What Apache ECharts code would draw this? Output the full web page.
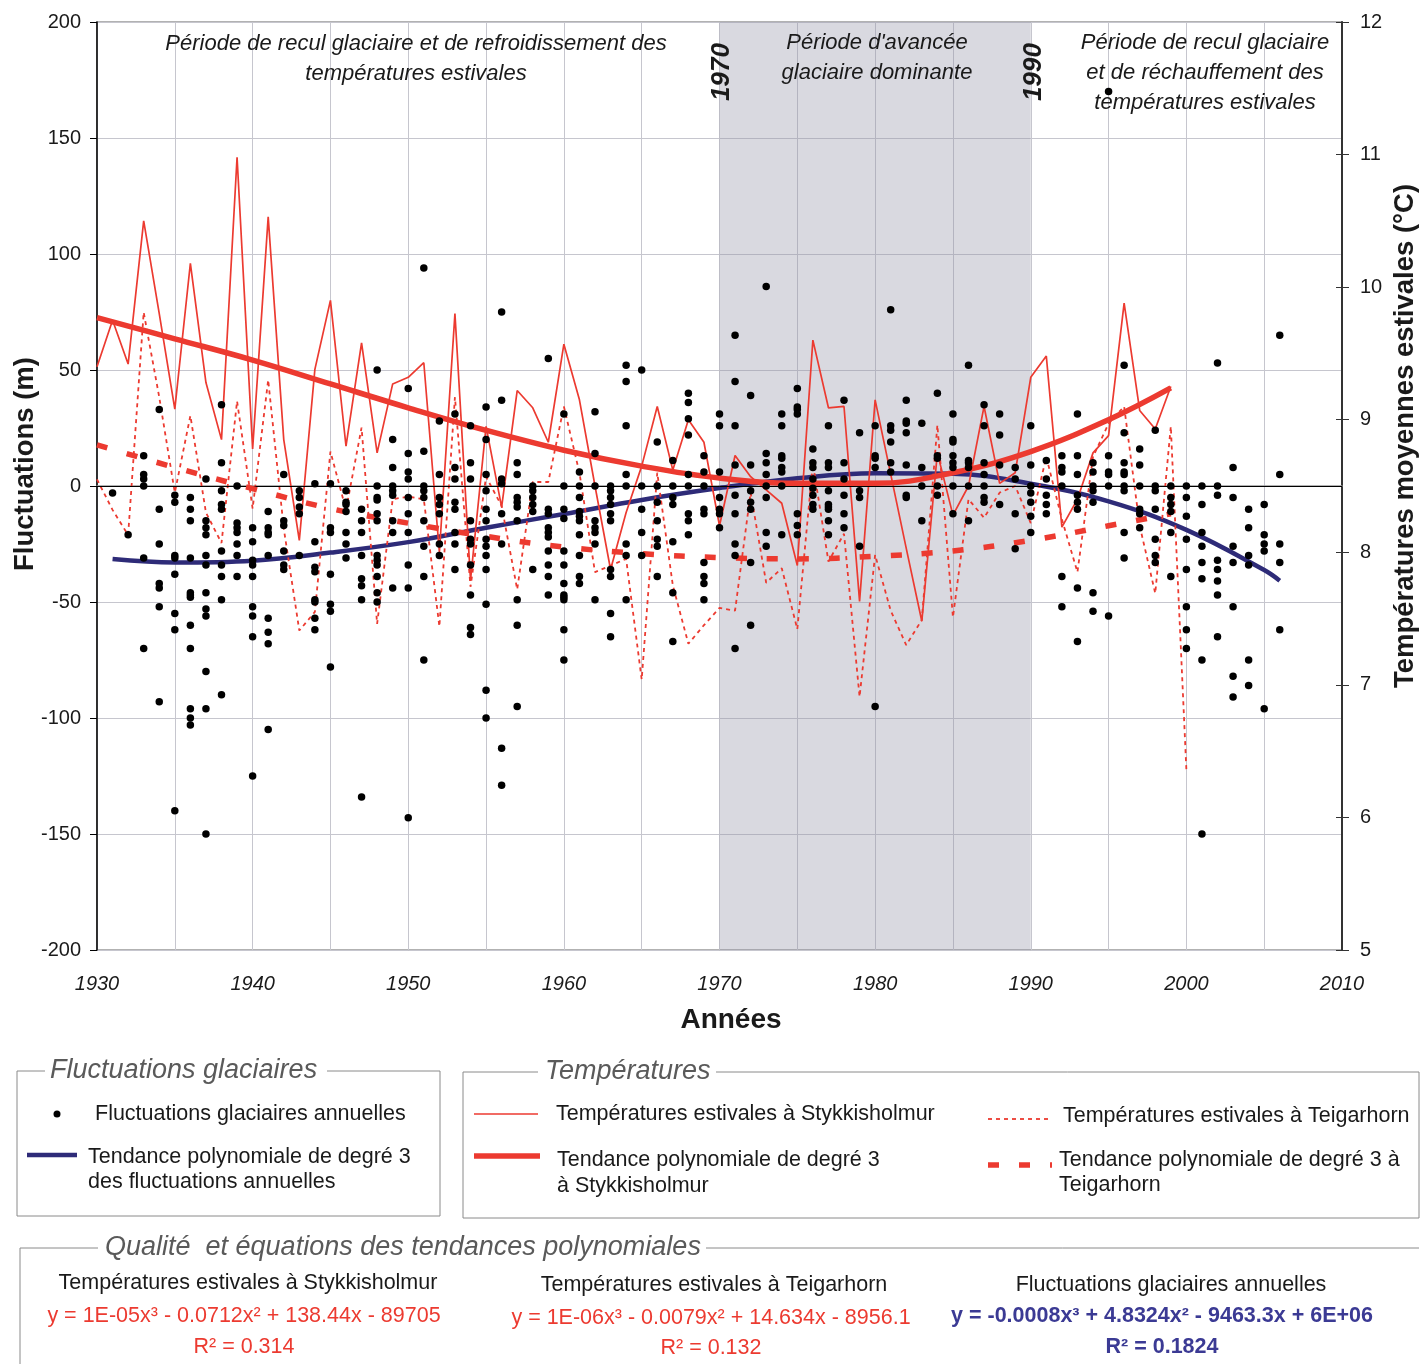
<!DOCTYPE html>
<html><head><meta charset="utf-8">
<script src="https://cdn.jsdelivr.net/npm/echarts@6/dist/echarts.min.js"></script>
<style>html,body{margin:0;padding:0;background:#fff}#c{width:1420px;height:1364px}</style>
</head><body><div id="c"></div>
<script>
// ---------- DATA ----------
const tempYears = [1930,1931,1932,1933,1934,1935,1936,1937,1938,1939,1940,1941,1942,1943,1944,1945,1946,1947,1948,1949,
  1950,1951,1952,1953,1954,1955,1956,1957,1958,1959,1960,1961,1962,1963,1964,1965,1966,1967,1968,1969,
  1970,1971,1972,1973,1974,1975,1976,1977,1978,1979,1980,1981,1982,1983,1984,1985,1986,1987,1988,1989,
  1990,1991,1992,1993,1994,1995,1996,1997,1998,1999,2000];
// Summer temperatures at Stykkisholmur (°C), 1930-1999
const stykkisholmur = [9.40,9.75,9.42,10.50,9.80,9.08,10.18,9.28,8.85,10.98,8.78,10.53,8.85,8.09,9.38,9.90,8.80,9.58,8.75,9.27,
  9.32,9.43,8.00,9.80,7.79,8.95,8.34,9.22,9.09,8.83,9.57,9.15,8.50,7.87,8.30,8.65,9.10,8.62,9.00,8.83,
  8.20,8.73,8.57,8.47,8.37,7.90,9.60,9.09,9.10,7.63,9.15,8.59,8.03,7.48,8.75,8.28,8.50,9.10,8.52,8.60,
  9.32,9.48,8.19,8.40,8.75,8.88,9.88,9.07,8.93,9.25];
// Summer temperatures at Teigarhorn (°C), 1930-2000
const teigarhorn = [8.55,8.32,8.13,9.81,9.17,8.45,9.03,8.30,8.07,9.14,8.33,9.30,8.18,7.41,7.55,8.76,8.32,8.94,7.46,8.40,
  8.42,8.40,7.44,9.17,7.74,8.57,8.35,7.72,8.53,8.53,9.10,8.60,7.85,7.90,7.95,7.04,8.60,7.75,7.31,7.45,
  7.58,7.56,8.45,7.77,7.88,7.42,8.67,7.93,8.14,6.91,7.98,7.56,7.30,7.49,8.96,7.51,8.40,8.26,8.45,8.50,
  8.22,8.72,8.25,7.85,8.72,8.97,9.10,8.20,7.69,8.95,6.36];
// Polynomial trends
const stykTrendYears  = [1930,1935,1940,1945,1950,1955,1960,1965,1970,1975,1980,1985,1990,1995,1999];
const stykTrendValues = [9.77,9.61,9.45,9.27,9.09,8.92,8.77,8.65,8.56,8.52,8.52,8.60,8.76,9.00,9.24];
const teigTrendYears  = [1930,1935,1940,1945,1950,1955,1960,1965,1970,1975,1980,1985,1990,1995,1999];
const teigTrendValues = [8.81,8.64,8.48,8.33,8.22,8.12,8.04,7.99,7.96,7.95,7.97,8.01,8.09,8.20,8.29];
const glacierTrendYears  = [1931,1935,1940,1945,1950,1955,1960,1965,1970,1975,1980,1985,1990,1995,2000,2005,2006];
const glacierTrendValues = [-31.5,-33,-32.2,-28.7,-24.2,-18,-12.1,-6,-0.9,3.3,5.5,5.3,1,-6.6,-18.9,-36.2,-40.8];
// Annual glacier fluctuations (m): [year, [values]]
const glacier1930s = [[1931,[-3]],[1932,[-21]],[1933,[13,5,3,0,-31,-70]],[1934,[33,-10,-25,-42,-44,-52,-93]],
  [1935,[-4,-7,-30,-31,-38,-55,-62,-140]],[1936,[-5,-10,-15,-31,-46,-47,-48,-60,-70,-96,-100,-103]],
  [1937,[3,-15,-18,-21,-30,-34,-46,-53,-56,-80,-96,-150]],[1938,[35,10,-2,-8,-10,-28,-34,-39,-49,-90]],
  [1939,[0,-16,-18,-20,-25,-30,-39]]];
const glacier1940s = [[1940,[-18,-24,-32,-34,-39,-52,-56,-65,-125]],[1941,[-11,-18,-20,-21,-30,-57,-63,-68,-105]],
  [1942,[5,-15,-17,-28,-34,-36]],[1943,[-2,-5,-9,-12,-30]],[1944,[1,-24,-35,-37,-49,-50,-57,-62]],
  [1945,[1,-18,-20,-38,-51,-54,-78]],[1946,[-2,-7,-8,-11,-20,-25,-31]],[1947,[-10,-15,-20,-30,-40,-43,-49,-134]],
  [1948,[50,0,-5,-6,-12,-15,-30,-32,-34,-39,-46,-50]],[1949,[20,8,0,-2,-4,-15,-20,-44]]];
const glacier1950s = [[1950,[42,14,6,3,-5,-12,-20,-34,-44,-143]],[1951,[94,15,0,-2,-5,-15,-26,-39,-75]],
  [1952,[28,5,-5,-8,-12,-25,-30]],[1953,[31,8,3,-7,-10,-20,-25,-36]],[1954,[26,10,3,-15,-23,-25,-34,-47,-61,-64]],
  [1955,[34,20,5,-2,-10,-15,-23,-26,-30,-36,-51,-88,-100]],[1956,[75,37,3,1,-12,-25,-113,-129]],
  [1957,[10,5,-5,-7,-9,-15,-49,-60,-95]],[1958,[0,-2,-5,-8,-11,-36]],[1959,[55,-10,-12,-18,-20,-22,-28,-34,-39,-47]]];
const glacier1960s = [[1960,[31,0,-10,-14,-28,-34,-42,-47,-48,-49,-62,-75]],[1961,[6,0,-5,-11,-13,-15,-21,-30,-39,-42]],
  [1962,[32,14,0,-15,-18,-20,-25,-49]],[1963,[0,-2,-5,-8,-12,-15,-36,-39,-55,-65]],[1964,[52,45,26,5,0,-25,-30,-49]],
  [1965,[50,0,-10,-20,-30]],[1966,[19,0,-7,-15,-23,-26,-39]],[1967,[11,0,-5,-8,-24,-46,-67]],
  [1968,[40,36,29,22,5,0,-12,-15,-21]],[1969,[13,6,0,-10,-12,-33,-39,-42,-49]]];
const glacier1970s = [[1970,[31,26,6,-5,-10,-12,-18]],[1971,[65,45,26,9,-4,-12,-25,-30,-70]],[1972,[39,9,-2,-7,-10,-33,-60]],
  [1973,[86,14,10,5,0,-5,-20,-26]],[1974,[31,26,13,12,8,6,0,-21]],[1975,[42,34,33,31,-12,-17,-21]],
  [1976,[16,10,8,3,-1,-4,-8,-10]],[1977,[26,10,8,-2,-8,-9,-10,-15,-21]],[1978,[37,10,3,-4,-12,-18]],[1979,[23,-2,-5,-26]]];
const glacier1980s = [[1980,[26,13,12,8,-95]],[1981,[76,26,24,19,10,6]],[1982,[37,28,27,23,9,-4,-5]],[1983,[27,8,0,-15]],
  [1984,[40,13,12,0,-4]],[1985,[31,20,19,13,10,8,0,-12]],[1986,[52,11,10,8,0,-15]],[1987,[35,26,10,5,0,-5,-7]],
  [1988,[31,22,9,-8]],[1989,[8,3,-12,-27]]];
const glacier1990s = [[1990,[26,9,0,-3,-7,-13,-20]],[1991,[11,3,-4,-8,-12]],[1992,[13,8,6,0,-39,-52]],
  [1993,[31,13,5,-4,-7,-10,-44,-67]],[1994,[10,6,0,-2,-7,-46,-54]],[1995,[170,13,6,5,0,-56]],
  [1996,[52,23,10,6,5,0,-2,-20,-31]],[1997,[16,9,0,-10,-12,-18]],[1998,[24,0,-2,-10,-23,-30,-33]],[1999,[0,-5,-8,-11,-20,-39]]];
const glacier2000s = [[2000,[0,-5,-13,-23,-36,-52,-62,-70]],[2001,[0,-8,-20,-26,-33,-40,-75,-150]],
  [2002,[53,0,-4,-32,-36,-41,-47,-65]],[2003,[8,-5,-26,-33,-52,-82,-91]],[2004,[-10,-18,-30,-34,-75,-86]],
  [2005,[-8,-21,-25,-28,-96]],[2006,[65,5,-25,-33,-62]]];
const shadedPeriod = [1970, 1990];

// ---------- BUILD ----------
const RED = '#ec3a30', NAVY = '#2e2b78';
const glacierPoints = [];
[glacier1930s,glacier1940s,glacier1950s,glacier1960s,glacier1970s,glacier1980s,glacier1990s,glacier2000s]
  .forEach(dec => dec.forEach(([yr, vals]) => vals.forEach(v => glacierPoints.push([yr, v]))));
const zip = (xs, ys) => ys.map((v, i) => [xs[i], v]);

const FONT = '"Liberation Sans", Arial, sans-serif';
function txt(x, y, text, o) {
  o = o || {};
  return { type: 'text', x: x, y: y, z: 100, rotation: o.rot || 0, style: {
    text: text, fill: o.fill || '#1a1a1a',
    font: (o.style || 'normal') + ' ' + (o.weight || 'normal') + ' ' + (o.size || 21.5) + 'px ' + FONT,
    textAlign: o.align || 'left', textVerticalAlign: 'middle', align: o.align || 'left', verticalAlign: 'middle' } };
}
function ln(x1, y1, x2, y2, o) {
  o = o || {};
  return { type: 'line', z: 100, shape: { x1, y1, x2, y2 }, style: { stroke: o.stroke || '#8a8a8a', lineWidth: o.w || 1, lineDash: o.dash || null } };
}
const GT = '#5a5a5a';
const graphics = [
  // annotations
  txt(416, 44, 'Période de recul glaciaire et de refroidissement des', {style:'italic', size:22, align:'center'}),
  txt(416, 74, 'températures estivales', {style:'italic', size:22, align:'center'}),
  txt(877, 43, "Période d'avancée", {style:'italic', size:22, align:'center'}),
  txt(877, 73, 'glaciaire dominante', {style:'italic', size:22, align:'center'}),
  txt(1205, 43, 'Période de recul glaciaire', {style:'italic', size:22, align:'center'}),
  txt(1205, 73, 'et de réchauffement des', {style:'italic', size:22, align:'center'}),
  txt(1205, 103, 'températures estivales', {style:'italic', size:22, align:'center'}),
  txt(722, 72, '1970', {style:'italic', weight:'bold', size:26, align:'center', rot: Math.PI/2}),
  txt(1034, 72, '1990', {style:'italic', weight:'bold', size:26, align:'center', rot: Math.PI/2}),
  // axis titles
  txt(25, 464, 'Fluctuations (m)', {weight:'bold', size:27.5, align:'center', rot: Math.PI/2}),
  txt(1405, 436, 'Températures moyennes estivales (°C)', {weight:'bold', size:27.5, align:'center', rot: Math.PI/2}),
  txt(731, 1020, 'Années', {weight:'bold', size:28, align:'center'}),
  // legend box 1
  ln(17, 1071, 45, 1071), ln(327, 1071, 440, 1071), ln(17, 1071, 17, 1216), ln(440, 1071, 440, 1216), ln(17, 1216, 440, 1216),
  txt(50, 1070, 'Fluctuations glaciaires', {style:'italic', size:27, fill:GT}),
  { type: 'circle', z: 100, shape: { cx: 57, cy: 1114, r: 3.5 }, style: { fill: '#000' } },
  txt(95, 1114, 'Fluctuations glaciaires annuelles'),
  ln(27, 1155, 77, 1155, {stroke: NAVY, w: 4.5}),
  txt(88, 1157, 'Tendance polynomiale de degré 3'),
  txt(88, 1182, 'des fluctuations annuelles'),
  // legend box 2
  ln(463, 1072, 538, 1072), ln(716, 1072, 1419, 1072), ln(463, 1072, 463, 1218), ln(1419, 1072, 1419, 1218), ln(463, 1218, 1419, 1218),
  txt(545, 1071, 'Températures', {style:'italic', size:27, fill:GT}),
  ln(474, 1114, 538, 1114, {stroke: RED, w: 1.6}),
  txt(556, 1114, 'Températures estivales à Stykkisholmur'),
  ln(474, 1156, 540, 1156, {stroke: RED, w: 5.5}),
  txt(557, 1160, 'Tendance polynomiale de degré 3'),
  txt(557, 1186, 'à Stykkisholmur'),
  ln(988, 1119, 1052, 1119, {stroke: RED, w: 1.8, dash: [4, 4]}),
  txt(1063, 1116, 'Températures estivales à Teigarhorn'),
  ln(988, 1165, 1052, 1165, {stroke: RED, w: 5.5, dash: [11, 20]}),
  txt(1059, 1160, 'Tendance polynomiale de degré 3 à'),
  txt(1059, 1185, 'Teigarhorn'),
  // equations box
  ln(20, 1248, 98, 1248), ln(706, 1248, 1419, 1248), ln(20, 1248, 20, 1364),
  txt(105, 1247, 'Qualité  et équations des tendances polynomiales', {style:'italic', size:27, fill:GT}),
  txt(248, 1283, 'Températures estivales à Stykkisholmur', {align:'center'}),
  txt(244, 1316, 'y = 1E-05x³ - 0.0712x² + 138.44x - 89705', {align:'center', fill: RED}),
  txt(244, 1347, 'R² = 0.314', {align:'center', fill: RED}),
  txt(714, 1285, 'Températures estivales à Teigarhorn', {align:'center'}),
  txt(711, 1318, 'y = 1E-06x³ - 0.0079x² + 14.634x - 8956.1', {align:'center', fill: RED}),
  txt(711, 1348, 'R² = 0.132', {align:'center', fill: RED}),
  txt(1171, 1285, 'Fluctuations glaciaires annuelles', {align:'center'}),
  txt(1162, 1316, 'y = -0.0008x³ + 4.8324x² - 9463.3x + 6E+06', {align:'center', fill: '#3b3a94', weight:'bold'}),
  txt(1162, 1347, 'R² = 0.1824', {align:'center', fill: '#3b3a94', weight:'bold'})
];

const chart = echarts.init(document.getElementById('c'), null, { renderer: 'canvas' });
const axisFont = { fontFamily: FONT, fontSize: 20, color: '#1a1a1a' };
chart.setOption({
  animation: false,
  backgroundColor: '#fff',
  grid: { left: 97, right: 78, top: 22, bottom: 414, show: true, borderColor: '#999', borderWidth: 1.5 },
  xAxis: {
    type: 'value', min: 1930, max: 2010, interval: 5,
    axisLine: { lineStyle: { color: '#999', width: 1.5 } },
    axisTick: { show: false },
    axisLabel: Object.assign({ fontStyle: 'italic', margin: 24, formatter: v => (v % 10 === 0 ? String(v) : '') }, axisFont),
    splitLine: { show: true, lineStyle: { color: '#c6c6ce', width: 1 } }
  },
  yAxis: [{
    type: 'value', min: -200, max: 200, interval: 50, position: 'left',
    axisLine: { show: true, lineStyle: { color: '#000', width: 1.5 } },
    axisTick: { show: true, length: 7, lineStyle: { color: '#000' } },
    axisLabel: Object.assign({ margin: 16 }, axisFont),
    splitLine: { show: true, lineStyle: { color: '#c6c6ce', width: 1 } }
  }, {
    type: 'value', min: 5, max: 12, interval: 1, position: 'right',
    axisLine: { show: true, lineStyle: { color: '#333', width: 2 } },
    axisTick: { show: true, length: 7, lineStyle: { color: '#333' } },
    axisLabel: Object.assign({ margin: 18 }, axisFont),
    splitLine: { show: false }
  }, {
    type: 'value', min: 5, max: 12, interval: 1, position: 'right',
    axisLine: { show: false },
    axisTick: { show: true, inside: true, length: 6, lineStyle: { color: '#333' } },
    axisLabel: { show: false },
    splitLine: { show: false }
  }],
  series: [
    { name: 'Tendance glaciaire', type: 'line', yAxisIndex: 0, z: 3, smooth: 0.4, showSymbol: false,
      data: zip(glacierTrendYears, glacierTrendValues), lineStyle: { color: NAVY, width: 4.5 },
      markArea: { silent: true, itemStyle: { color: 'rgba(150,150,168,0.36)' },
        data: [[{ xAxis: shadedPeriod[0] }, { xAxis: shadedPeriod[1] }]] } },
    { name: 'Stykkisholmur', type: 'line', yAxisIndex: 1, z: 4, showSymbol: false,
      data: zip(tempYears, stykkisholmur), lineStyle: { color: RED, width: 1.7 } },
    { name: 'Teigarhorn', type: 'line', yAxisIndex: 1, z: 4, showSymbol: false,
      data: zip(tempYears, teigarhorn), lineStyle: { color: RED, width: 1.8, type: [4, 4] } },
    { name: 'Tendance Stykkisholmur', type: 'line', yAxisIndex: 1, z: 5, smooth: 0.4, showSymbol: false,
      data: zip(stykTrendYears, stykTrendValues), lineStyle: { color: RED, width: 5.5 } },
    { name: 'Tendance Teigarhorn', type: 'line', yAxisIndex: 1, z: 5, smooth: 0.4, showSymbol: false,
      data: zip(teigTrendYears, teigTrendValues), lineStyle: { color: RED, width: 5.5, type: [11, 20] } },
    { name: 'Fluctuations glaciaires annuelles', type: 'scatter', yAxisIndex: 0, z: 6,
      symbol: 'circle', symbolSize: 7.5, itemStyle: { color: '#000', opacity: 1 }, data: glacierPoints,
      markLine: { silent: true, symbol: ['none', 'none'], label: { show: false },
        lineStyle: { color: '#000', width: 1, type: 'solid' }, data: [{ yAxis: 0 }] } }
  ],
  graphic: graphics
});
</script></body></html>
